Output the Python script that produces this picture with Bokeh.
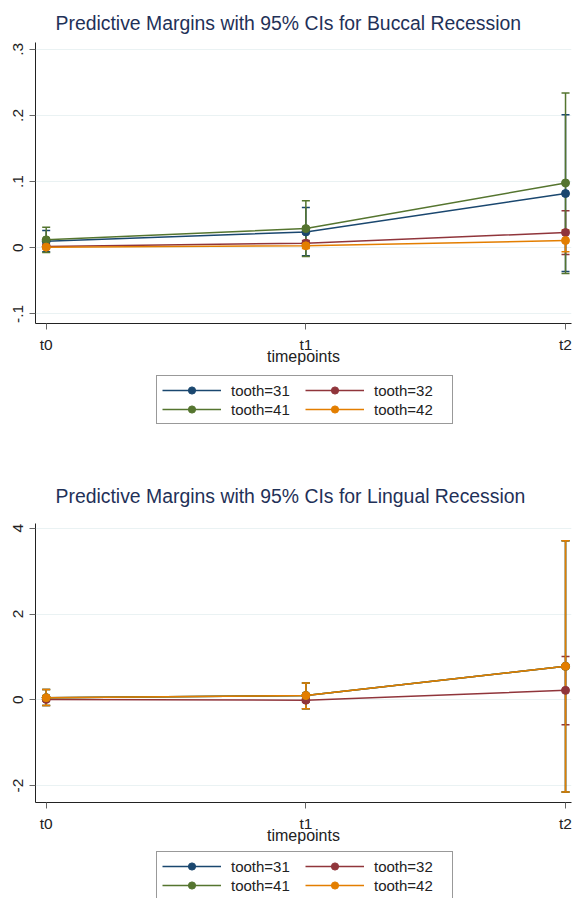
from bokeh.plotting import figure
from bokeh.models import FixedTicker, Range1d, Legend, LegendItem
from bokeh.layouts import column
from bokeh.embed import file_html
from bokeh.resources import INLINE

# ---------------- data ----------------
timepoints = ["t0", "t1", "t2"]
xpos = [0, 1, 2]
teeth = ["31", "32", "41", "42"]

# Buccal recession: margins, lower and upper 95% CI
buccal_mean = {
    "31": [0.010, 0.024, 0.082],
    "32": [0.002, 0.007, 0.023],
    "41": [0.012, 0.029, 0.098],
    "42": [0.001, 0.003, 0.011],
}
buccal_lo = {
    "31": [-0.006, -0.012, -0.036],
    "32": [-0.001, 0.003, -0.010],
    "41": [-0.007, -0.013, -0.039],
    "42": [-0.001, -0.001, -0.006],
}
buccal_hi = {
    "31": [0.026, 0.061, 0.201],
    "32": [0.005, 0.011, 0.056],
    "41": [0.031, 0.071, 0.234],
    "42": [0.003, 0.007, 0.027],
}

# Lingual recession
lingual_mean = {
    "31": [0.05, 0.10, 0.78],
    "32": [0.01, -0.01, 0.22],
    "41": [0.05, 0.10, 0.78],
    "42": [0.05, 0.10, 0.78],
}
lingual_lo = {
    "31": [-0.13, -0.21, -2.15],
    "32": [-0.03, -0.05, -0.58],
    "41": [-0.13, -0.21, -2.15],
    "42": [-0.13, -0.21, -2.15],
}
lingual_hi = {
    "31": [0.24, 0.39, 3.71],
    "32": [0.05, 0.03, 1.01],
    "41": [0.24, 0.39, 3.71],
    "42": [0.24, 0.39, 3.71],
}

buccal_ticks = [-0.1, 0, 0.1, 0.2, 0.3]
buccal_tick_labels = ["-.1", "0", ".1", ".2", ".3"]
lingual_ticks = [-2, 0, 2, 4]
lingual_tick_labels = ["-2", "0", "2", "4"]

colors = {"31": "#1a476f", "32": "#90353b", "41": "#55752f", "42": "#e37e00"}

FONT = "Liberation Sans"
W = 574


def make_plot(title, mean, lo, hi, yrange, yticks, ylabels, height, top, bottom, standoff):
    p = figure(width=W, height=height, output_backend="svg", toolbar_location=None,
               x_range=Range1d(-0.0412, 2.023), y_range=Range1d(*yrange),
               min_border_left=35, min_border_right=3,
               min_border_top=top, min_border_bottom=bottom)
    p.outline_line_color = None
    p.background_fill_color = "white"
    p.border_fill_color = "white"

    p.title.text = title
    p.title.text_font = FONT
    p.title.text_font_size = "19.4px"
    p.title.text_font_style = "normal"
    p.title.text_color = "#1f3158"
    p.title.align = "left"
    p.title.offset = 20
    p.title.standoff = standoff
    p.title.vertical_align = "bottom"

    p.xaxis.ticker = FixedTicker(ticks=xpos)
    p.xaxis.major_label_overrides = {x: t for x, t in zip(xpos, timepoints)}
    p.xaxis.axis_label = "timepoints"
    p.xaxis.axis_label_text_font = FONT
    p.xaxis.axis_label_text_font_size = "16px"
    p.xaxis.axis_label_text_font_style = "normal"
    p.xaxis.axis_label_text_color = "#222222"
    p.xaxis.axis_label_standoff = -8

    p.yaxis.ticker = FixedTicker(ticks=yticks)
    p.yaxis.major_label_overrides = {t: l for t, l in zip(yticks, ylabels)}
    p.yaxis.major_label_orientation = "vertical"

    for ax in (p.xaxis, p.yaxis):
        ax.axis_line_color = "#222222"
        ax.axis_line_width = 1
        ax.major_tick_line_color = "#666666"
        ax.major_tick_out = 6
        ax.major_tick_in = 0
        ax.minor_tick_line_color = None
        ax.major_label_text_font = FONT
        ax.major_label_text_font_size = "15.5px"
        ax.major_label_text_color = "#222222"
    p.xaxis.major_label_standoff = 6
    p.yaxis.major_label_standoff = 6

    p.xgrid.visible = False
    p.ygrid.ticker = FixedTicker(ticks=yticks)
    p.ygrid.grid_line_color = "#eaf2f3"
    p.ygrid.grid_line_width = 1

    # confidence intervals first, then connected margins
    for t in teeth:
        c = colors[t]
        p.segment(x0=xpos, y0=lo[t], x1=xpos, y1=hi[t], line_color=c, line_width=1.5)
        p.scatter(xpos, lo[t], marker="dash", size=8, line_color=c, line_width=1.5)
        p.scatter(xpos, hi[t], marker="dash", size=8, line_color=c, line_width=1.5)
    for t in teeth:
        c = colors[t]
        p.line(xpos, mean[t], line_color=c, line_width=1.5)
        p.scatter(xpos, mean[t], marker="circle", size=8, fill_color=c, line_color=c)
    return p


def legend_fig(height, box_top):
    lf = figure(width=W, height=height, output_backend="svg", toolbar_location=None,
                x_range=Range1d(0, 1), y_range=Range1d(0, 1),
                x_axis_type=None, y_axis_type=None,
                min_border_left=0, min_border_right=0, min_border_top=0, min_border_bottom=0)
    lf.outline_line_color = None
    lf.grid.visible = False
    items = []
    for t in teeth:
        c = colors[t]
        lr = lf.line([-5, -4], [-5, -5], line_color=c, line_width=1.5)
        sr = lf.scatter([-5], [-5], marker="circle", size=7, fill_color=c, line_color=c)
        items.append(LegendItem(label="tooth=" + t, renderers=[lr, sr]))
    ybot = height - box_top - 51
    leg = Legend(items=items, location=(121, ybot), orientation="horizontal", ncols=2,
                 label_text_font=FONT, label_text_font_size="15px", label_text_color="#222222",
                 glyph_width=59, glyph_height=18, label_standoff=10, label_width=73,
                 padding=5, spacing=1, margin=0,
                 border_line_color="#333333", border_line_width=1,
                 background_fill_color="white", background_fill_alpha=1.0)
    lf.add_layout(leg)
    return lf


p1 = make_plot("Predictive Margins with 95% CIs for Buccal Recession",
               buccal_mean, buccal_lo, buccal_hi, (-0.1144, 0.3102),
               buccal_ticks, buccal_tick_labels, 370, 42, 47, 18)
l1 = legend_fig(95, 3)
p2 = make_plot("Predictive Margins with 95% CIs for Lingual Recession",
               lingual_mean, lingual_lo, lingual_hi, (-2.394, 4.11),
               lingual_ticks, lingual_tick_labels, 382, 58, 45, 33)
l2 = legend_fig(51, 2)

layout = column(p1, l1, p2, l2, spacing=0)
open("out.html", "w").write(file_html(layout, INLINE))
